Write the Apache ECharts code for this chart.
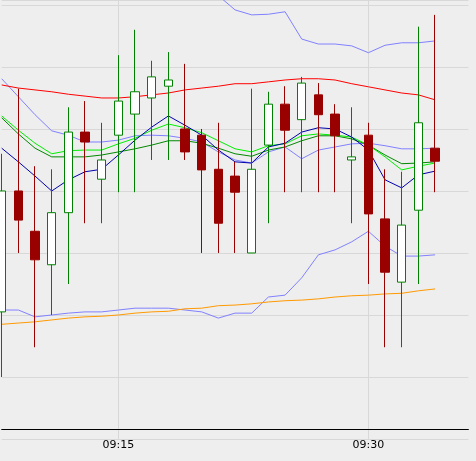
<!DOCTYPE html>
<html>
<head>
<meta charset="utf-8">
<script src="https://cdn.jsdelivr.net/npm/echarts@6/dist/echarts.min.js"></script>
<style>
  html, body { margin: 0; padding: 0; background: #eeeeee; }
  #chart { width: 476px; height: 461px; }
</style>
</head>
<body>
<div id="chart"></div>
<script>
// one category per minute; the last two have no candle
var times = ['09:08','09:09','09:10','09:11','09:12','09:13','09:14','09:15','09:16','09:17',
  '09:18','09:19','09:20','09:21','09:22','09:23','09:24','09:25','09:26','09:27',
  '09:28','09:29','09:30','09:31','09:32','09:33','09:34','09:35','09:36'];

// [open, close, low, high]
var candles = [
  [22.05,24.00,21.00,24.60],[24.00,23.53,23.00,25.65],[23.35,22.89,21.48,24.40],
  [22.81,23.65,22.00,24.35],[23.65,24.95,22.50,25.35],[24.95,24.79,23.48,25.45],
  [24.19,24.50,23.48,25.10],[24.90,25.45,23.98,26.19],[25.24,25.60,23.98,26.60],
  [25.50,25.84,24.50,26.10],[25.69,25.79,24.50,26.24],[25.00,24.63,24.50,26.05],
  [24.90,24.34,23.00,25.00],[24.35,23.48,23.00,25.10],[24.24,23.98,23.00,24.47],
  [23.00,24.35,23.00,25.65],[24.74,25.40,23.48,25.60],[25.40,24.98,23.98,25.69],
  [25.15,25.74,23.98,25.84],[25.55,25.23,23.98,25.74],[25.24,24.89,23.98,25.40],
  [24.50,24.55,23.48,25.35],[24.90,23.63,22.50,25.10],[23.55,22.69,21.48,24.35],
  [22.53,23.45,21.48,24.31],[23.69,25.10,22.50,26.65],[24.69,24.48,23.98,26.84]
];

var maRed = [25.71,25.66,25.63,25.60,25.56,25.53,25.50,25.50,25.52,25.55,25.58,25.63,25.66,25.69,
  25.73,25.73,25.76,25.79,25.81,25.81,25.79,25.73,25.68,25.63,25.58,25.55,25.47];
var maOrange = [21.85,21.87,21.89,21.92,21.95,21.97,21.98,22.00,22.03,22.05,22.06,22.10,22.11,22.15,
  22.16,22.18,22.21,22.23,22.24,22.26,22.29,22.31,22.32,22.34,22.35,22.39,22.42];
var maBlue = [24.69,24.47,24.24,24.00,24.18,24.31,24.35,24.58,24.82,25.03,25.21,25.06,24.90,24.66,
  24.47,24.45,24.71,24.77,24.95,25.02,25.00,24.87,24.66,24.18,24.05,24.26,24.32];
var maLime = [25.21,24.98,24.77,24.60,24.65,24.66,24.66,24.76,24.85,24.98,25.08,25.02,24.94,24.81,
  24.68,24.63,24.73,24.76,24.89,24.92,24.90,24.87,24.74,24.55,24.34,24.40,24.45];
var maGreen = [25.18,24.92,24.69,24.55,24.55,24.55,24.58,24.63,24.68,24.74,24.81,24.81,24.77,24.69,
  24.60,24.56,24.66,24.71,24.81,24.89,24.89,24.84,24.74,24.58,24.44,24.45,24.47];
var bandMid = [25.81,25.52,25.23,24.97,24.90,24.79,24.79,24.82,24.89,24.90,24.89,24.85,24.79,24.63,
  24.50,24.45,24.63,24.71,24.52,24.66,24.71,24.76,24.77,24.73,24.68,24.68,24.69];
var bandUp = [27.73,27.69,27.66,27.65,27.65,27.63,27.61,27.60,27.56,27.53,27.48,27.40,27.27,27.15,
  26.92,26.84,26.85,26.89,26.45,26.37,26.37,26.34,26.23,26.35,26.39,26.39,26.42];
var bandLow = [22.08,22.08,21.97,22.00,22.03,22.05,22.05,22.08,22.11,22.11,22.11,22.08,22.05,21.95,
  22.03,22.03,22.29,22.32,22.60,22.97,23.05,23.18,23.35,23.11,22.95,22.95,22.97];

var labelled = ['09:15', '09:30'];

function line(data, color) {
  return { type: 'line', data: data, symbol: 'none', silent: true, clip: true,
    lineStyle: { color: color, width: 1 }, z: 1 };
}

var chart = echarts.init(document.getElementById('chart'));
chart.setOption({
  backgroundColor: '#eeeeee',
  animation: false,
  grid: { left: 1.7, right: 7.6, top: 0, bottom: 22 },
  xAxis: {
    type: 'category',
    data: times,
    boundaryGap: false,
    offset: -10,
    axisLine: { lineStyle: { color: '#000', width: 1 } },
    axisTick: { show: false },
    axisLabel: {
      interval: function (i, v) { return labelled.indexOf(v) >= 0; },
      color: '#000', fontFamily: 'DejaVu Sans', fontSize: 11, margin: 11
    },
    splitLine: {
      show: true,
      interval: function (i, v) { return labelled.indexOf(v) >= 0; },
      lineStyle: { color: '#d8d8d8' }
    }
  },
  yAxis: {
    type: 'value', min: 20, max: 27.08, interval: 1,
    axisLine: { show: false }, axisTick: { show: false }, axisLabel: { show: false },
    splitLine: { lineStyle: { color: '#d8d8d8' } }
  },
  series: [
    line(bandUp, '#8080ff'), line(bandMid, '#8080ff'), line(bandLow, '#8080ff'),
    line(maOrange, '#ff9900'), line(maRed, '#ff0000'),
    line(maGreen, '#008800'), line(maLime, '#00ee00'), line(maBlue, '#0000aa'),
    {
      type: 'candlestick', data: candles, barWidth: 9, z: 2, clip: true,
      itemStyle: {
        color: '#ffffff', borderColor: '#008000',
        color0: '#990000', borderColor0: '#990000', borderWidth: 1
      }
    }
  ]
});
</script>
</body>
</html>
